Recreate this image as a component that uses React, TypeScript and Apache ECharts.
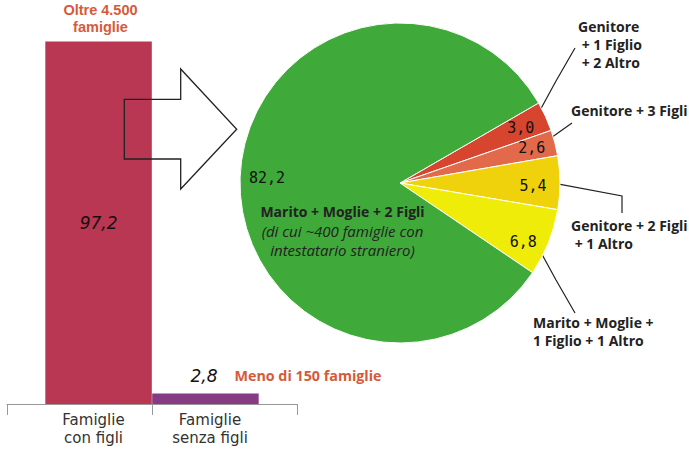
import React, { useEffect, useRef } from "react";
import * as echarts from "echarts";

// ---- data ----
const BAR_CATEGORIES = ["Famiglie\ncon figli", "Famiglie\nsenza figli"];
const BAR_VALUES = [97.2, 2.8];
const BAR_NOTE_TOP = "Oltre 4.500\nfamiglie";
const BAR_NOTE_SMALL = "Meno di 150 famiglie";

const PIE_NAMES = [
  "Genitore\n + 1 Figlio\n + 2 Altro",
  "Genitore + 3 Figli",
  "Genitore + 2 Figli\n + 1 Altro",
  "Marito + Moglie +\n1 Figlio + 1 Altro",
  "Marito + Moglie + 2 Figli",
];
const PIE_VALUES = [3.0, 2.6, 5.4, 6.8, 82.2];
const PIE_NOTE = ["(di cui ~400 famiglie con", "intestatario straniero)"];

const BAR_COLORS = ["#B93752", "#873B84"];
const PIE_COLORS = ["#D8452F", "#E26A4B", "#F0D20C", "#EFEC0A", "#3FA93A"];

const fmt = (v: number) => v.toFixed(1).replace(".", ",");

const FONT = "'Open Sans', sans-serif";
const MONO = "'DejaVu Sans Mono', monospace";
const ITAL = "'DejaVu Sans', sans-serif";
const AXISFONT = "'DejaVu Sans', sans-serif";
const NOTEFONT = "'Liberation Sans', Arial, sans-serif";
const ORANGE = "#D65A3A";

export default function App() {
  const ref = useRef<HTMLDivElement | null>(null);

  useEffect(() => {
    if (!ref.current) return;
    const chart = echarts.init(ref.current, null, { renderer: "svg" });

    const cx = 400;
    const cy = 183;
    const R = 160;

    // annotation placement for descriptive pie labels
    const labelSpots = [
      { x: 578, y: 17, align: "left", line: [[538, 114], [556, 81], [575, 48]] },
      { x: 571, y: 101, align: "left", line: [[548, 140], [560, 131.5], [572, 123]] },
      { x: 571, y: 216, align: "left", line: [[555, 183.3], [622, 196], [622, 213]] },
      { x: 533, y: 313, align: "left", line: [[538, 247], [556, 280], [575, 313]] },
      { x: 342.5, y: 202, align: "center", line: null },
    ];
    const valueNudge = [
      [-2, 1.5],
      [1, -1.5],
      [-2, 3],
      [-2, 9],
      [2, 0],
    ];

    const option: any = {
      animation: false,
      backgroundColor: "#ffffff",
      grid: { left: 7, right: 392, top: 31, bottom: 46, containLabel: false },
      xAxis: {
        type: "category",
        data: BAR_CATEGORIES,
        boundaryGap: true,
        axisLine: { show: true, lineStyle: { color: "#999", width: 1 } },
        axisTick: { show: true, length: 11, lineStyle: { color: "#999", width: 1 } },
        axisLabel: {
          margin: 7,
          color: "#333",
          fontFamily: AXISFONT,
          fontSize: 15,
          lineHeight: 18,
          formatter: (v: string, i: number) =>
            v
              .split("\n")
              .map((s) => `{${i === 0 ? "a" : "b"}|${s}}`)
              .join("\n"),
          rich: {
            a: { fontFamily: AXISFONT, fontSize: 15, color: "#333", lineHeight: 18, padding: [0, 0, 0, 28] },
            b: { fontFamily: AXISFONT, fontSize: 15, color: "#333", lineHeight: 18, padding: [0, 29, 0, 0] },
          },
        },
      },
      yAxis: { type: "value", min: 0, max: 100, show: false, splitLine: { show: false } },
      series: [
        {
          type: "bar",
          data: [BAR_VALUES[0], "-"],
          barWidth: 106.5,
          barGap: "-135.8%",
          itemStyle: { color: BAR_COLORS[0] },
          silent: true,
          label: {
            show: true,
            position: "inside",
            formatter: (p: any) => fmt(p.value),
            fontFamily: ITAL,
            fontStyle: "italic",
            fontSize: 17,
            color: "#111",
          },
        },
        {
          type: "bar",
          data: ["-", BAR_VALUES[1]],
          barWidth: 106.5,
          barGap: "-135.8%",
          itemStyle: { color: BAR_COLORS[1] },
          silent: true,
          label: {
            show: true,
            position: "top",
            distance: 8,
            align: "left",
            offset: [-15, 0],
            formatter: (p: any) => `{v|${fmt(p.value)}}{n|${BAR_NOTE_SMALL}}`,
            rich: {
              v: { fontFamily: ITAL, fontStyle: "italic", fontSize: 17, color: "#111", lineHeight: 20, verticalAlign: "middle" },
              n: { fontFamily: FONT, fontWeight: "bold", fontSize: 14.3, color: ORANGE, lineHeight: 20, padding: [0, 0, 0, 17], verticalAlign: "middle" },
            },
          },
        },
        {
          type: "pie",
          center: [cx, cy],
          radius: [0, R],
          startAngle: 30,
          clockwise: true,
          avoidLabelOverlap: false,
          silent: true,
          data: PIE_VALUES.map((v, i) => ({
            value: v,
            name: PIE_NAMES[i],
            itemStyle: { color: PIE_COLORS[i] },
            labelLine: { show: i !== 4 },
          })),
          itemStyle: { borderColor: "#ffffff", borderWidth: 1 },
          label: {
            show: true,
            position: "outside",
            overflow: "none",
            fontFamily: FONT,
            fontWeight: "bold",
            fontSize: 14,
            lineHeight: 18,
            color: "#222",
            formatter: (p: any) =>
              p.dataIndex === 4
                ? `{b|${p.name}}\n` + PIE_NOTE.map((s) => `{i|${s}}`).join("\n")
                : p.name,
            rich: {
              b: { fontFamily: FONT, fontWeight: "bold", fontSize: 14, color: "#222", lineHeight: 19 },
              i: { fontFamily: FONT, fontStyle: "italic", fontWeight: "normal", fontSize: 15, color: "#222", lineHeight: 19 },
            },
          },
          labelLine: { show: true, length: 10, length2: 10, lineStyle: { color: "#222", width: 1.2 } },
          labelLayout: (params: any) => {
            const s = labelSpots[params.dataIndex];
            const out: any = { x: s.x, y: s.y, align: s.align, verticalAlign: "top" };
            if (s.line) out.labelLinePoints = s.line;
            return out;
          },
        },
        {
          type: "pie",
          center: [cx, cy],
          radius: [0, 264],
          startAngle: 30,
          clockwise: true,
          avoidLabelOverlap: false,
          silent: true,
          z: 5,
          data: PIE_VALUES.map((v, i) => ({ value: v, name: "v" + i })),
          itemStyle: { color: "rgba(0,0,0,0)", borderWidth: 0 },
          emphasis: { disabled: true },
          labelLine: { show: false },
          label: {
            show: true,
            position: "inside",
            formatter: (p: any) => fmt(p.value),
            fontFamily: MONO,
            fontSize: 15,
            color: "#111",
          },
          labelLayout: (params: any) => {
            const n = valueNudge[params.dataIndex];
            return { dx: n[0], dy: n[1] };
          },
        },
      ],
      graphic: [
        {
          type: "text",
          silent: true,
          style: {
            text: BAR_NOTE_TOP,
            x: 100.5,
            y: 2.2,
            align: "center",
            verticalAlign: "top",
            font: `bold 14.5px ${NOTEFONT}`,
            lineHeight: 16.4,
            fill: ORANGE,
          },
        },
        {
          type: "polygon",
          silent: true,
          z: 10,
          shape: {
            points: [
              [124.3, 99.3],
              [180.7, 99.3],
              [180.7, 69],
              [236.7, 129.3],
              [180.7, 189],
              [180.7, 159],
              [124.3, 159],
            ],
          },
          style: { fill: "none", stroke: "#222", lineWidth: 1.3 },
        },
      ],
    };

    chart.setOption(option);
    return () => chart.dispose();
  }, []);

  return (
    <div
      ref={ref}
      style={{ position: "fixed", left: 0, top: 0, width: 689, height: 450, background: "#fff" }}
    />
  );
}
